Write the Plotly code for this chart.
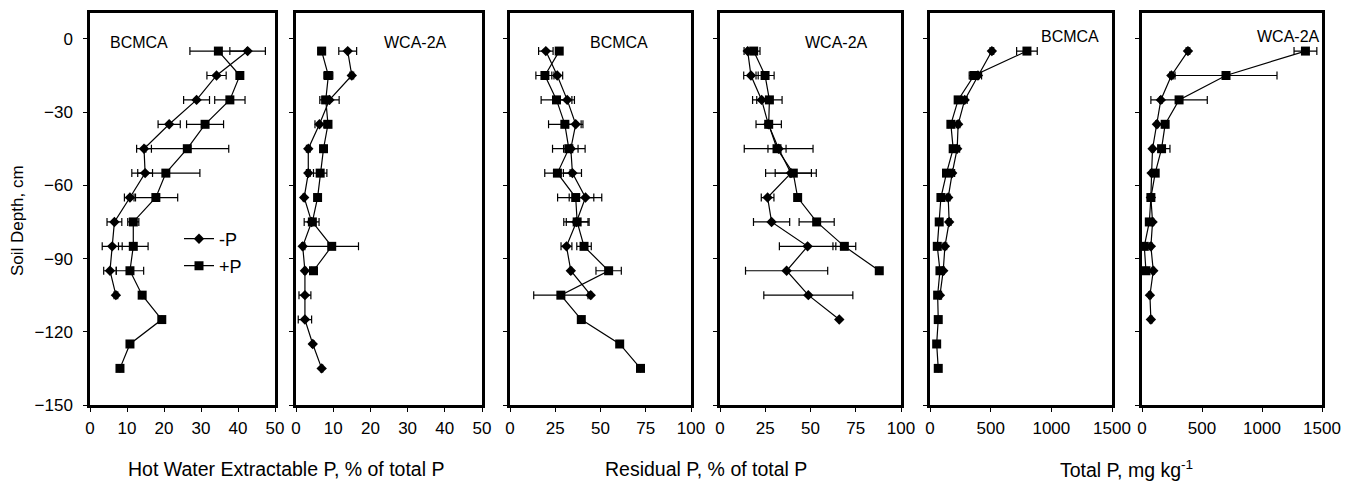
import plotly.graph_objects as go

W, H = 1346, 483

# ---------------- data ----------------
depth = [-5, -15, -25, -35, -45, -55, -65, -75, -85, -95, -105, -115, -125, -135]

hwe_bcmca_minus = [42.6, 34.2, 28.8, 21.4, 14.6, 14.9, 10.8, 6.6, 6.0, 5.4, 7.0]
hwe_bcmca_minus_err = [4.8, 2.6, 3.5, 3.0, 2.0, 2.0, 1.5, 2.0, 2.7, 1.7, 0.5]
hwe_bcmca_plus = [34.7, 40.5, 37.8, 31.1, 26.3, 20.5, 17.8, 11.7, 11.7, 10.8, 14.1, 19.4, 10.8, 8.1]
hwe_bcmca_plus_err = [7.7, 0.8, 4.1, 5.0, 11.2, 9.2, 5.9, 1.5, 4.0, 3.7, 0, 0, 0, 0]

hwe_wca_minus = [13.9, 15.0, 9.0, 6.3, 3.3, 3.3, 2.2, 4.2, 1.8, 2.4, 2.4, 2.4, 4.5, 6.9]
hwe_wca_minus_err = [2.4, 0.5, 2.6, 1.2, 0.5, 0.5, 0.3, 2.0, 0.3, 0.3, 1.6, 1.8, 0.3, 0.3]
hwe_wca_plus = [6.9, 8.7, 8.0, 8.6, 7.4, 6.5, 5.8, 4.4, 9.6, 4.7]
hwe_wca_plus_err = [1.0, 1.2, 1.0, 0.5, 0.5, 1.8, 0.5, 0.5, 7.2, 0.5]

res_bcmca_minus = [19.8, 26.1, 31.6, 36.3, 33.6, 34.5, 41.7, 36.7, 31.2, 33.6, 44.6]
res_bcmca_minus_err = [4.0, 3.0, 4.0, 4.0, 4.0, 5.0, 9.0, 7.0, 3.0, 0.5, 0.5]
res_bcmca_plus = [27.2, 19.3, 25.7, 30.3, 32.5, 26.2, 36.3, 37.1, 40.9, 54.5, 28.1, 39.4, 60.6, 72.1]
res_bcmca_plus_err = [0.5, 5.0, 8.5, 9.0, 9.0, 7.0, 10.0, 6.0, 4.0, 7.0, 15.0, 0, 0, 0]

res_wca_minus = [15.3, 17.1, 23.0, 26.7, 32.4, 39.2, 26.3, 28.5, 48.4, 36.8, 48.8, 65.9]
res_wca_minus_err = [2.0, 4.0, 5.0, 1.0, 19.0, 14.0, 3.5, 10.0, 15.6, 22.7, 24.6, 0]
res_wca_plus = [18.6, 24.9, 27.3, 26.9, 31.5, 40.5, 42.9, 53.4, 68.7, 88.0]
res_wca_plus_err = [3.5, 5.0, 7.0, 7.0, 5.0, 10.0, 0, 9.7, 6.3, 0]

tp_bcmca_minus = [510, 395, 286, 232, 224, 183, 150, 158, 123, 109, 82]
tp_bcmca_minus_err = [15, 30, 20, 15, 20, 20, 15, 15, 15, 10, 10]
tp_bcmca_plus = [799, 363, 232, 172, 191, 136, 90, 76, 60, 82, 63, 68, 55, 68]
tp_bcmca_plus_err = [85, 40, 15, 20, 25, 30, 15, 10, 10, 10, 0, 0, 0, 0]

tp_wca_minus = [383, 245, 157, 124, 88, 80, 74, 88, 74, 94, 66, 74]
tp_wca_minus_err = [15, 15, 10, 10, 10, 10, 10, 10, 10, 10, 10, 10]
tp_wca_plus = [1362, 700, 309, 193, 163, 110, 74, 61, 19, 33]
tp_wca_plus_err = [95, 425, 235, 20, 70, 15, 10, 10, 10, 10]

panel_labels = ["BCMCA", "WCA-2A", "BCMCA", "WCA-2A", "BCMCA", "WCA-2A"]
x_ranges = [[0, 50], [0, 50], [0, 100], [0, 100], [0, 1500], [0, 1500]]
x_dticks = [10, 10, 25, 25, 500, 500]
y_tickvals = [0, -30, -60, -90, -120, -150]
x_titles = ["Hot Water Extractable P, % of total P", "Residual P, % of total P",
            "Total P, mg kg<sup>-1</sup>"]
y_title = "Soil Depth, cm"

panels = [
    (hwe_bcmca_minus, hwe_bcmca_minus_err, hwe_bcmca_plus, hwe_bcmca_plus_err),
    (hwe_wca_minus, hwe_wca_minus_err, hwe_wca_plus, hwe_wca_plus_err),
    (res_bcmca_minus, res_bcmca_minus_err, res_bcmca_plus, res_bcmca_plus_err),
    (res_wca_minus, res_wca_minus_err, res_wca_plus, res_wca_plus_err),
    (tp_bcmca_minus, tp_bcmca_minus_err, tp_bcmca_plus, tp_bcmca_plus_err),
    (tp_wca_minus, tp_wca_minus_err, tp_wca_plus, tp_wca_plus_err),
]

# ---------------- layout geometry (pixels) ----------------
px_left = [90, 296, 510, 720, 930, 1142]
px_right = [275, 482, 691, 901, 1112, 1322]
px_top, px_bot = 13, 405
label_px = [(108, 43), (382, 43), (588, 43), (803, 43), (1039, 36), (1255, 36)]

FONT = "Liberation Sans, Arial, sans-serif"

fig = go.Figure()
layout = dict(
    width=W, height=H,
    margin=dict(l=0, r=0, t=0, b=0, autoexpand=False),
    paper_bgcolor="white", plot_bgcolor="white",
    font=dict(family=FONT, size=17, color="black"),
    showlegend=True,
    legend=dict(x=179 / W, y=1 - 239 / H, xanchor="left", yanchor="middle",
                bgcolor="rgba(0,0,0,0)", font=dict(size=18), itemwidth=30),
    legend2=dict(x=179 / W, y=1 - 266 / H, xanchor="left", yanchor="middle",
                 bgcolor="rgba(0,0,0,0)", font=dict(size=18), itemwidth=30),
)

for i, (ym, yme, yp, ype) in enumerate(panels):
    n = "" if i == 0 else str(i + 1)
    xa, ya = "x" + n, "y" + n
    fig.add_trace(go.Scatter(
        x=ym, y=depth[:len(ym)], xaxis=xa, yaxis=ya, mode="lines+markers",
        name="-P", showlegend=(i == 0), legend="legend",
        line=dict(color="black", width=1.2),
        marker=dict(symbol="diamond", size=8, color="black"),
        error_x=dict(type="data", array=yme, color="black", thickness=1.2, width=4),
    ))
    fig.add_trace(go.Scatter(
        x=yp, y=depth[:len(yp)], xaxis=xa, yaxis=ya, mode="lines+markers",
        name="+P", showlegend=(i == 0), legend="legend2",
        line=dict(color="black", width=1.2),
        marker=dict(symbol="square", size=9, color="black"),
        error_x=dict(type="data", array=ype, color="black", thickness=1.2, width=4),
    ))
    layout["xaxis" + n] = dict(
        domain=[px_left[i] / W, px_right[i] / W], anchor=ya,
        range=x_ranges[i], dtick=x_dticks[i], tick0=0,
        showline=True, mirror=True, linecolor="black", linewidth=2.5,
        ticks="outside", ticklen=4, tickcolor="black", tickwidth=1,
        showgrid=False, zeroline=False, ticklabelstandoff=2,
        tickfont=dict(size=17), automargin=False,
    )
    layout["yaxis" + n] = dict(
        domain=[1 - px_bot / H, 1 - px_top / H], anchor=xa,
        range=[-150, 10.6], tickvals=y_tickvals,
        showline=True, mirror=True, linecolor="black", linewidth=2.5,
        ticks="outside", ticklen=4, tickcolor="black", tickwidth=1,
        showgrid=False, zeroline=False, showticklabels=(i == 0),
        ticklabelstandoff=7, tickfont=dict(size=17), automargin=False,
    )

annotations = []
for i, (lx, ly) in enumerate(label_px):
    annotations.append(dict(x=lx / W, y=1 - ly / H, xref="paper", yref="paper",
                            text=panel_labels[i], showarrow=False,
                            xanchor="left", yanchor="middle", font=dict(size=16)))
for j, t in enumerate(x_titles):
    cx = (px_left[2 * j] + px_right[2 * j + 1]) / 2
    annotations.append(dict(x=cx / W, y=1 - 469 / H, xref="paper", yref="paper",
                            text=t, showarrow=False, xanchor="center",
                            yanchor="middle", font=dict(size=19.5)))
annotations.append(dict(x=18 / W, y=1 - 221 / H, xref="paper", yref="paper",
                        text=y_title, showarrow=False, textangle=-90,
                        xanchor="center", yanchor="middle", font=dict(size=17)))
layout["annotations"] = annotations

fig.update_layout(**layout)
fig.write_html("out.html", config={"displayModeBar": False},
               post_script="document.body.style.margin='0';")
